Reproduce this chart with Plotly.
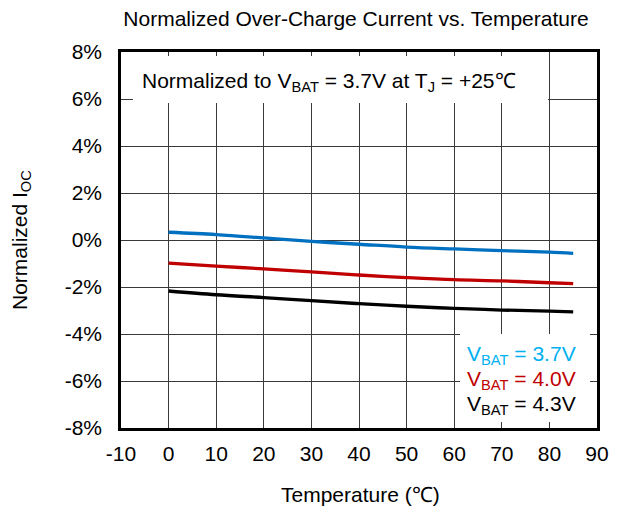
import plotly.graph_objects as go

temp = [0, 10, 20, 30, 40, 50, 60, 70, 80, 85]
v37 = [0.33, 0.23, 0.09, -0.06, -0.18, -0.30, -0.38, -0.45, -0.52, -0.57]
v40 = [-0.98, -1.11, -1.23, -1.36, -1.49, -1.60, -1.69, -1.74, -1.82, -1.86]
v43 = [-2.17, -2.33, -2.45, -2.58, -2.71, -2.82, -2.91, -2.98, -3.03, -3.06]

x_ticks = list(range(-10, 91, 10))
y_ticks = list(range(-8, 9, 2))
y_labels = [f"{v}%" for v in y_ticks]

legend_labels = ["V<sub>BAT</sub> = 3.7V", "V<sub>BAT</sub> = 4.0V", "V<sub>BAT</sub> = 4.3V"]
legend_colors = ["#00B0F0", "#C00000", "#000000"]
line_colors = ["#0070C0", "#C00000", "#000000"]

FONT = "Liberation Sans, Arial, sans-serif"
FS = 21

fig = go.Figure()
for ys, col in zip([v37, v40, v43], line_colors):
    fig.add_trace(go.Scatter(x=temp, y=ys, mode="lines", line=dict(color=col, width=3.3, shape="spline"),
                             showlegend=False, hoverinfo="skip"))

# page has an 8px body margin; figure is offset by it
fig.update_layout(
    width=611, height=501,
    margin=dict(l=113, r=22, t=44, b=81, pad=0),
    paper_bgcolor="white", plot_bgcolor="white",
    font=dict(family=FONT, size=FS, color="black"),
    title=dict(text="Normalized Over-Charge Current vs. Temperature", xref="paper", x=0.4937,
               xanchor="center", yref="container", y=1 - 11 / 501, yanchor="middle", font=dict(size=FS)),
    xaxis=dict(range=[-10, 90], tickvals=x_ticks, ticktext=[str(v) for v in x_ticks],
               showgrid=True, gridcolor="#3a3a3a", gridwidth=1, zeroline=False,
               showline=True, linecolor="black", linewidth=2.5, mirror=True, ticks="",
               ticklabelstandoff=5, tickfont=dict(size=FS), automargin=False),
    yaxis=dict(range=[-8, 8], tickvals=y_ticks, ticktext=y_labels,
               showgrid=True, gridcolor="#3a3a3a", gridwidth=1, zeroline=False,
               showline=True, linecolor="black", linewidth=2.5, mirror=True, ticks="",
               ticklabelstandoff=12, tickfont=dict(size=FS), automargin=False),
)

# axis titles
fig.add_annotation(xref="paper", yref="paper", x=(360 - 121) / 476, y=1 - (494 - 52) / 376,
                   xanchor="center", yanchor="middle", text="Temperature (℃)", showarrow=False,
                   font=dict(size=FS))
fig.add_annotation(xref="paper", yref="paper", x=(21 - 121) / 476, y=1 - (240 - 52) / 376,
                   xanchor="center", yanchor="middle", text="Normalized I<sub>OC</sub>", textangle=-90,
                   showarrow=False, font=dict(size=FS))

# top note box
fig.add_shape(type="rect", xref="paper", yref="paper", x0=12 / 476, x1=427 / 476,
              y0=1 - 51 / 376, y1=1 - 4 / 376, fillcolor="white", line=dict(width=0), layer="above")
fig.add_annotation(xref="paper", yref="paper", x=(140 - 121) / 476, y=1 - (82 - 52) / 376,
                   xanchor="left", yanchor="middle",
                   text="Normalized to V<sub>BAT</sub> = 3.7V at T<sub>J</sub> = +25℃",
                   showarrow=False, font=dict(size=FS))

# legend box
fig.add_shape(type="rect", xref="paper", yref="paper", x0=339 / 476, x1=469 / 476,
              y0=1 - 370 / 376, y1=1 - 282 / 376, fillcolor="white", line=dict(width=0), layer="above")
for lab, col, yc in zip(legend_labels, legend_colors, [355, 380, 405]):
    fig.add_annotation(xref="paper", yref="paper", x=(465 - 121) / 476, y=1 - (yc - 52) / 376,
                       xanchor="left", yanchor="middle", text=lab, showarrow=False,
                       font=dict(size=FS, color=col))

fig.write_html("out.html")
